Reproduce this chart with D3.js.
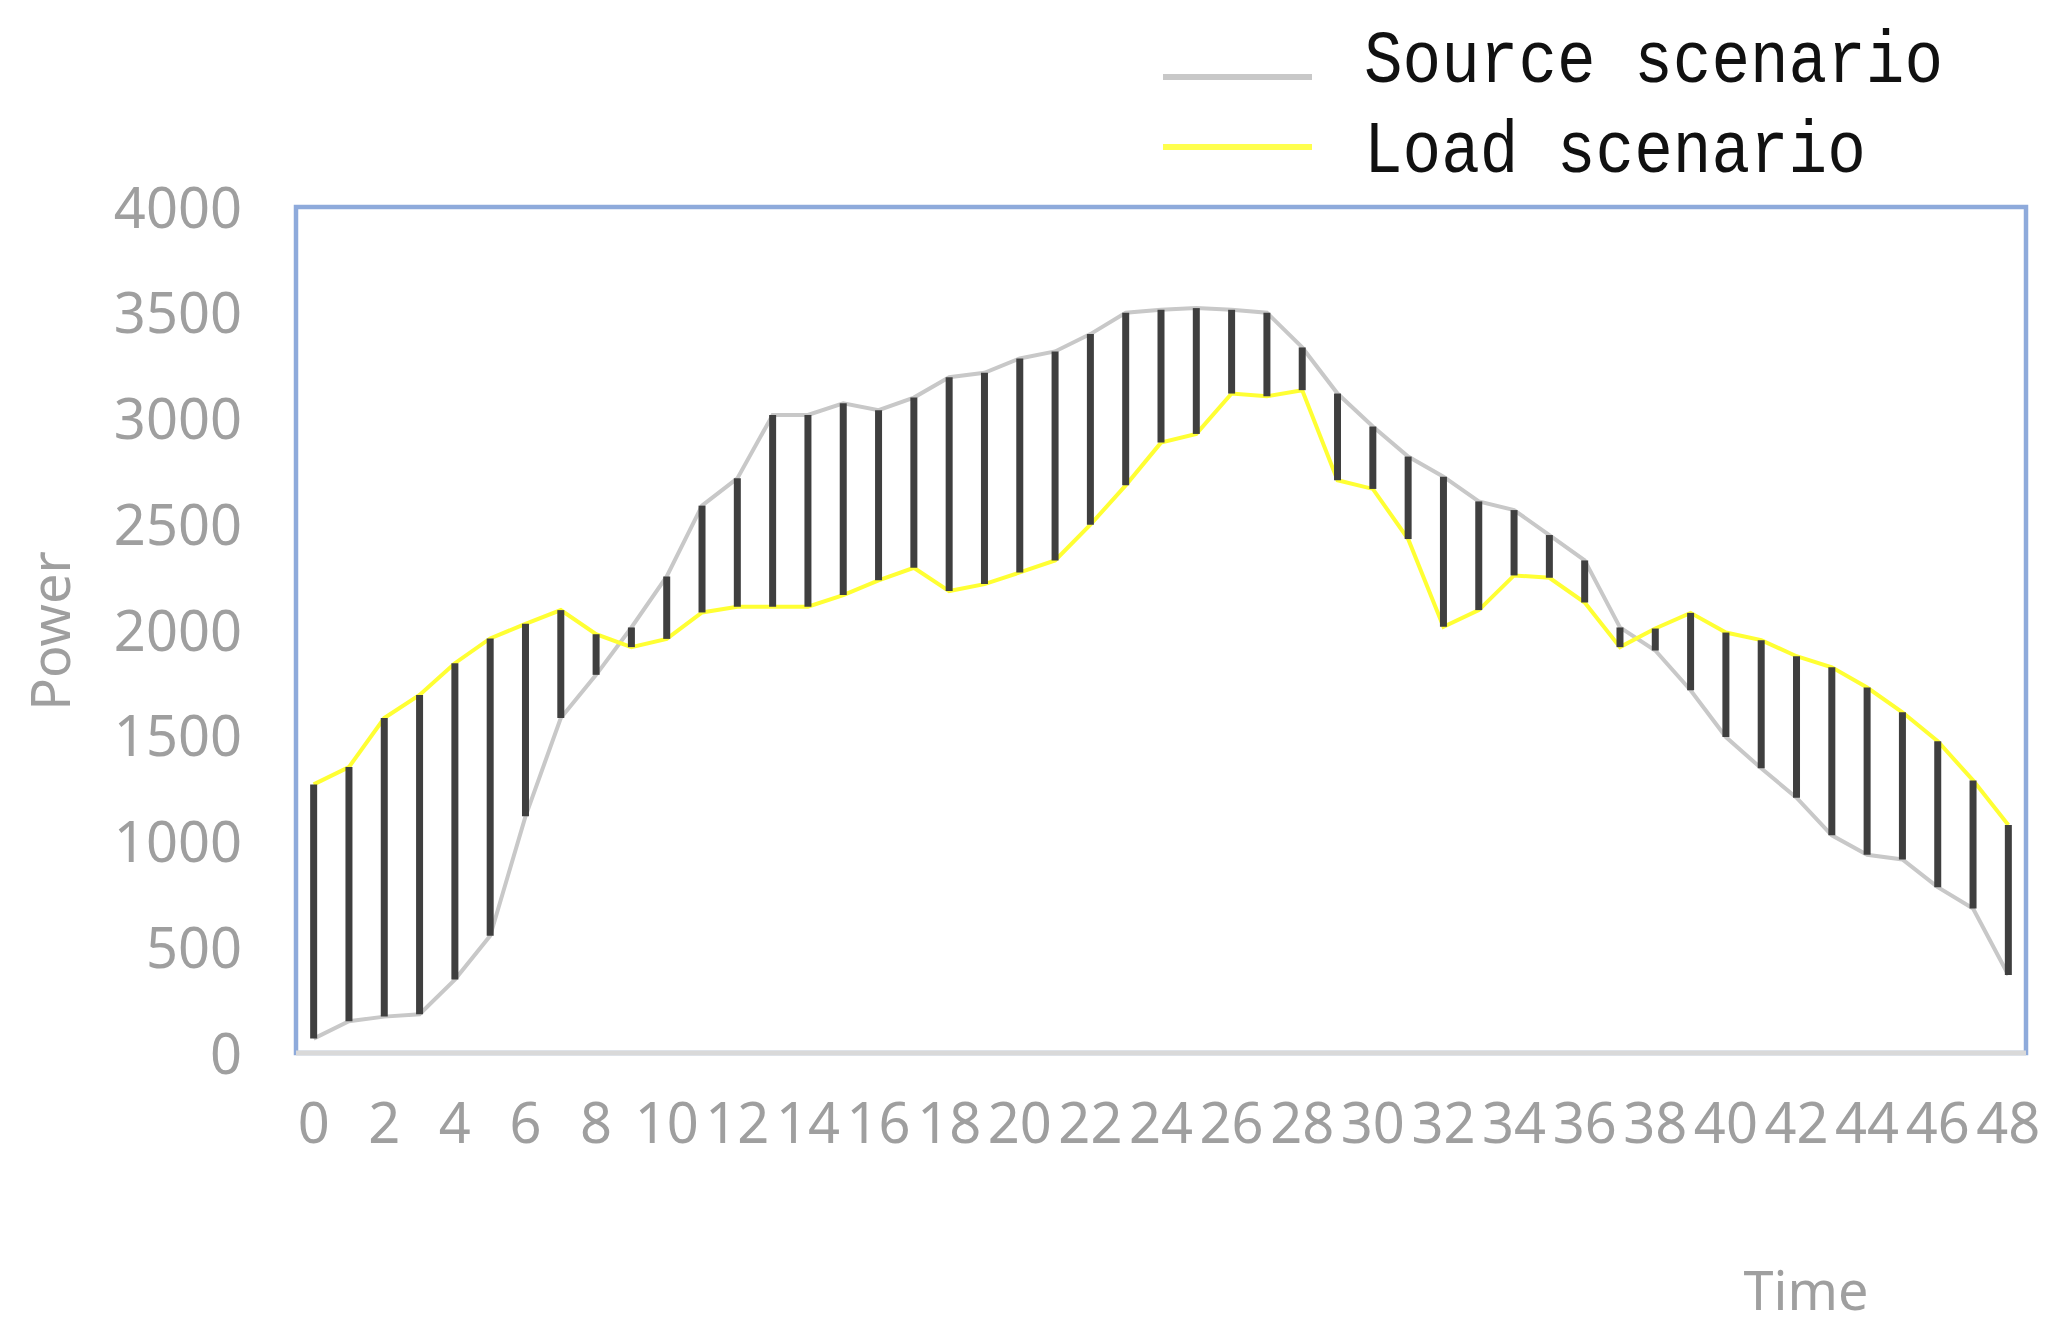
<!DOCTYPE html>
<html>
<head>
<meta charset="utf-8">
<script src="https://cdn.jsdelivr.net/npm/d3@7"></script>
<style>
  html, body { margin: 0; padding: 0; background: #ffffff; }
  svg { display: block; }
</style>
</head>
<body>
<svg id="chart" width="2072" height="1344"></svg>
<script>
// ---- data ----
const categories = d3.range(0, 49);
const sourceScenario = [68,150,172,183,347,554,1119,1584,1788,2012,2253,2588,2717,3017,3017,3072,3039,3099,3195,3216,3284,3317,3399,3500,3514,3522,3514,3500,3336,3118,2962,2820,2725,2608,2567,2449,2329,2012,1903,1715,1494,1346,1207,1029,937,915,784,683,369];
const loadScenario = [1270,1352,1584,1693,1843,1960,2029,2094,1980,1919,1958,2083,2110,2110,2110,2165,2235,2294,2184,2217,2272,2329,2498,2684,2886,2927,3118,3105,3134,2708,2667,2430,2015,2094,2258,2247,2130,1919,2007,2081,1988,1952,1876,1824,1728,1611,1474,1289,1078];
const yTicks = [0,500,1000,1500,2000,2500,3000,3500,4000];
const xTickLabels = categories.filter(d => d % 2 === 0);
const seriesNames = ["Source scenario", "Load scenario"];

// ---- layout ----
const svg = d3.select("#chart");
const plot = { left: 296, right: 2026, top: 207, bottom: 1053 };

const x = d3.scaleBand().domain(categories).range([plot.left, plot.right]).padding(0);
const cx = d => x(d) + x.bandwidth() / 2;
const y = d3.scaleLinear().domain([0, 4000]).range([plot.bottom, plot.top]);

const tickColor = "#9f9f9f";
const tickFont = "'Noto Sans', sans-serif";

// plot area border (blue)
svg.append("rect")
  .attr("x", plot.left).attr("y", plot.top)
  .attr("width", plot.right - plot.left).attr("height", plot.bottom - plot.top)
  .attr("fill", "none").attr("stroke", "#8eaadb").attr("stroke-width", 4.5);

// bottom category axis line (gray)
svg.append("line")
  .attr("x1", plot.left).attr("x2", plot.right)
  .attr("y1", plot.bottom).attr("y2", plot.bottom)
  .attr("stroke", "#d9d9d9").attr("stroke-width", 5);

// y axis labels
const yAxis = d3.axisLeft(y).tickValues(yTicks).tickSize(0).tickPadding(0).tickFormat(d3.format("d"));
const yg = svg.append("g").attr("transform", `translate(242,0)`).call(yAxis);
yg.select(".domain").remove();
yg.selectAll("text")
  .attr("fill", tickColor).attr("font-family", tickFont).attr("font-size", 56)
  .attr("dy", "0.36em").attr("x", 0);

// x axis labels
const xAxis = d3.axisBottom(x).tickValues(xTickLabels).tickSize(0).tickPadding(0);
const xg = svg.append("g").attr("transform", `translate(0,${plot.bottom})`).call(xAxis);
xg.select(".domain").remove();
xg.selectAll("text")
  .attr("fill", tickColor).attr("font-family", tickFont).attr("font-size", 56)
  .attr("dy", null).attr("y", 90);

// axis titles
svg.append("text")
  .attr("transform", "translate(70,631) rotate(-90)")
  .attr("text-anchor", "middle")
  .attr("fill", tickColor).attr("font-family", tickFont).attr("font-size", 54)
  .text("Power");
svg.append("text")
  .attr("x", 1806).attr("y", 1310)
  .attr("text-anchor", "middle")
  .attr("fill", tickColor).attr("font-family", tickFont).attr("font-size", 54)
  .text("Time");

// series lines
const line = d3.line().x((d, i) => cx(categories[i])).y(d => y(d));
svg.append("path").datum(sourceScenario)
  .attr("d", line).attr("fill", "none")
  .attr("stroke", "#c8c8c8").attr("stroke-width", 4);
svg.append("path").datum(loadScenario)
  .attr("d", line).attr("fill", "none")
  .attr("stroke", "#ffff33").attr("stroke-width", 4);

// high-low bars
svg.append("g").selectAll("line")
  .data(categories)
  .join("line")
  .attr("x1", d => cx(d)).attr("x2", d => cx(d))
  .attr("y1", (d, i) => y(sourceScenario[i]))
  .attr("y2", (d, i) => y(loadScenario[i]))
  .attr("stroke", "#3f3f3f").attr("stroke-width", 7);

// legend
const legendColors = ["#c8c8c8", "#ffff4d"];
const legend = svg.append("g");
seriesNames.forEach((name, i) => {
  const ly = [77, 147][i];
  legend.append("line")
    .attr("x1", 1163).attr("x2", 1312).attr("y1", ly).attr("y2", ly)
    .attr("stroke", legendColors[i]).attr("stroke-width", 6);
  legend.append("text")
    .attr("x", 1364).attr("y", [82, 172][i])
    .attr("font-family", "'Liberation Mono', monospace")
    .attr("font-size", 74)
    .attr("fill", "#111")
    .attr("textLength", name.length * 38.6)
    .attr("lengthAdjust", "spacingAndGlyphs")
    .text(name);
});
</script>
</body>
</html>
